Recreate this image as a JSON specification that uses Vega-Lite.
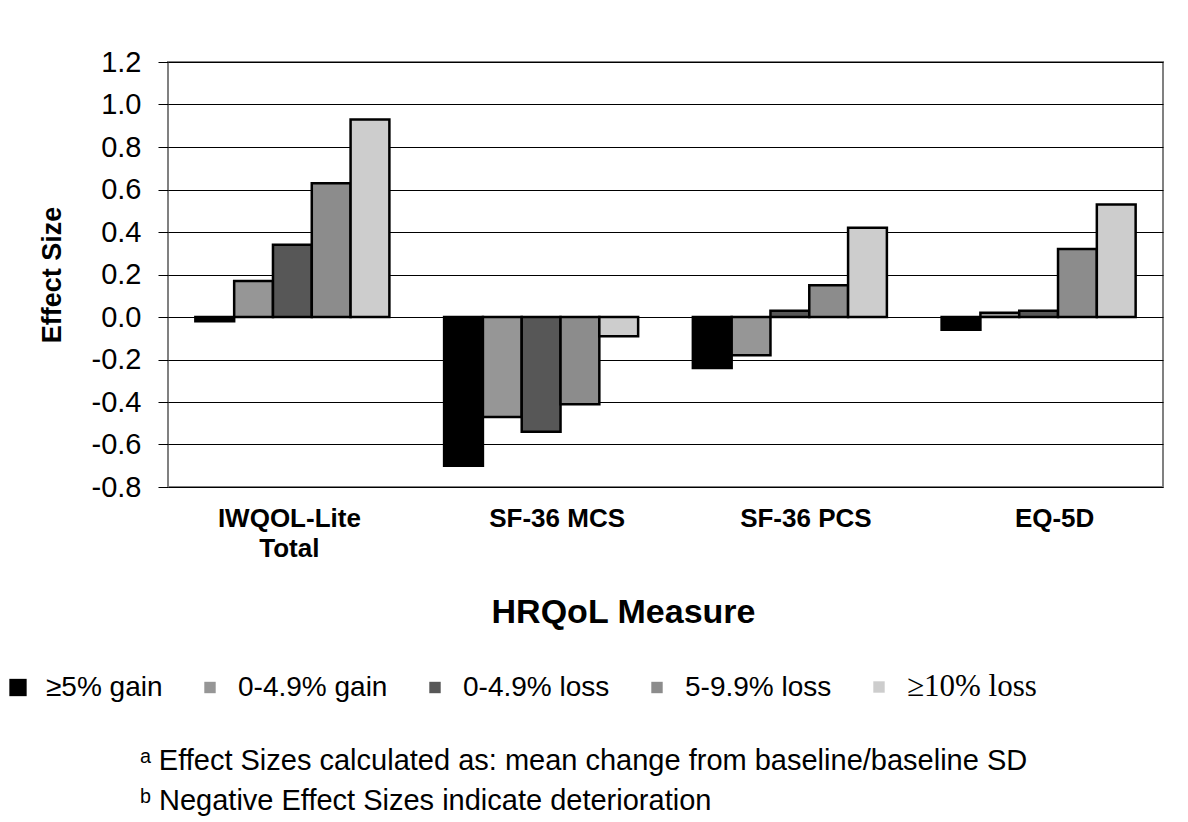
{
  "$schema": "https://vega.github.io/schema/vega-lite/v6.json",
  "autosize": "none",
  "padding": {"left": 168, "top": 62, "right": 25, "bottom": 335},
  "width": 995,
  "height": 425,
  "background": "white",
  "config": {
    "view": {"stroke": "#808080", "strokeWidth": 2},
    "font": "Liberation Sans"
  },
  "title": {
    "text": ["ᵃ Effect Sizes calculated as: mean change from baseline/baseline SD", "ᵇ Negative Effect Sizes indicate deterioration"],
    "orient": "bottom",
    "anchor": "start",
    "frame": "group",
    "dx": -28,
    "offset": 45,
    "font": "Liberation Sans",
    "fontSize": 29,
    "fontWeight": "normal",
    "lineHeight": 40,
    "color": "black"
  },
  "data": {
    "values": [
      {"measure": "IWQOL-Lite Total", "group": "≥5% gain", "value": -0.02},
      {"measure": "IWQOL-Lite Total", "group": "0-4.9% gain", "value": 0.17},
      {"measure": "IWQOL-Lite Total", "group": "0-4.9% loss", "value": 0.34},
      {"measure": "IWQOL-Lite Total", "group": "5-9.9% loss", "value": 0.63},
      {"measure": "IWQOL-Lite Total", "group": "≥10% loss", "value": 0.93},
      {"measure": "SF-36 MCS", "group": "≥5% gain", "value": -0.70},
      {"measure": "SF-36 MCS", "group": "0-4.9% gain", "value": -0.47},
      {"measure": "SF-36 MCS", "group": "0-4.9% loss", "value": -0.54},
      {"measure": "SF-36 MCS", "group": "5-9.9% loss", "value": -0.41},
      {"measure": "SF-36 MCS", "group": "≥10% loss", "value": -0.09},
      {"measure": "SF-36 PCS", "group": "≥5% gain", "value": -0.24},
      {"measure": "SF-36 PCS", "group": "0-4.9% gain", "value": -0.18},
      {"measure": "SF-36 PCS", "group": "0-4.9% loss", "value": 0.03},
      {"measure": "SF-36 PCS", "group": "5-9.9% loss", "value": 0.15},
      {"measure": "SF-36 PCS", "group": "≥10% loss", "value": 0.42},
      {"measure": "EQ-5D", "group": "≥5% gain", "value": -0.06},
      {"measure": "EQ-5D", "group": "0-4.9% gain", "value": 0.02},
      {"measure": "EQ-5D", "group": "0-4.9% loss", "value": 0.03},
      {"measure": "EQ-5D", "group": "5-9.9% loss", "value": 0.32},
      {"measure": "EQ-5D", "group": "≥10% loss", "value": 0.53}
    ]
  },
  "mark": {"type": "bar", "stroke": "black", "strokeWidth": 2.5},
  "encoding": {
    "x": {
      "field": "measure",
      "type": "nominal",
      "sort": ["IWQOL-Lite Total", "SF-36 MCS", "SF-36 PCS", "EQ-5D"],
      "scale": {"paddingInner": 0.22, "paddingOuter": 0.11},
      "axis": {
        "title": "HRQoL Measure",
        "titleFont": "Liberation Sans",
        "titleFontSize": 34,
        "titleFontWeight": "bold",
        "titleColor": "black",
        "titlePadding": 34,
        "titleAnchor": "middle",
        "titleX": 455,
        "labelAngle": 0,
        "labelFont": "Liberation Sans",
        "labelFontSize": 26,
        "labelFontWeight": "bold",
        "labelColor": "black",
        "labelPadding": 18,
        "labelOffset": {"condition": {"test": "datum.value == 'IWQOL-Lite Total'", "value": -3}, "value": 16},
        "labelLineHeight": 30,
        "labelExpr": "datum.value == 'IWQOL-Lite Total' ? ['IWQOL-Lite', 'Total'] : datum.value",
        "ticks": false,
        "domain": false
      }
    },
    "xOffset": {
      "field": "group",
      "type": "nominal",
      "sort": ["≥5% gain", "0-4.9% gain", "0-4.9% loss", "5-9.9% loss", "≥10% loss"],
      "scale": {"paddingInner": 0, "paddingOuter": 0}
    },
    "y": {
      "field": "value",
      "type": "quantitative",
      "scale": {"domain": [-0.8, 1.2], "nice": false},
      "axis": {
        "title": "Effect Size",
        "titleFont": "Liberation Sans",
        "titleFontSize": 27,
        "titleFontWeight": "bold",
        "titleColor": "black",
        "titlePadding": 25,
        "values": [-0.8, -0.6, -0.4, -0.2, 0, 0.2, 0.4, 0.6, 0.8, 1.0, 1.2],
        "labelExpr": "datum.value < -0.001 ? '-' + format(-datum.value, '.1f') : format(datum.value, '.1f')",
        "labelFont": "Liberation Sans",
        "labelFontSize": 29,
        "labelColor": "black",
        "labelPadding": 17,
        "tickColor": "black",
        "tickSize": 10,
        "grid": true,
        "gridColor": "black",
        "gridOpacity": 1,
        "gridWidth": 1,
        "domain": false
      }
    },
    "fill": {
      "field": "group",
      "type": "nominal",
      "sort": ["≥5% gain", "0-4.9% gain", "0-4.9% loss", "5-9.9% loss", "≥10% loss"],
      "scale": {
        "domain": ["≥5% gain", "0-4.9% gain", "0-4.9% loss", "5-9.9% loss", "≥10% loss"],
        "range": ["#000000", "#969696", "#575757", "#8c8c8c", "#cdcdcd"]
      },
      "legend": {
        "title": null,
        "orient": "none",
        "direction": "horizontal",
        "legendX": -164,
        "legendY": 611,
        "symbolType": "square",
        "symbolSize": 130,
        "symbolStrokeWidth": 0,
        "labelFont": "Liberation Sans",
        "labelFontSize": 28,
        "labelColor": "black",
        "labelOffset": 14,
        "labelLimit": 300,
        "columnPadding": 33,
        "encoding": {
          "labels": {
            "font": {"value": {"expr": "datum.label === '≥10% loss' ? 'Liberation Serif' : 'Liberation Sans'"}},
            "fontSize": {"value": {"expr": "datum.label === '≥10% loss' ? 31 : 28"}}
          },
          "symbols": {
            "size": {"value": {"expr": "datum.label === '≥5% gain' ? 300 : 130"}}
          }
        }
      }
    }
  }
}
